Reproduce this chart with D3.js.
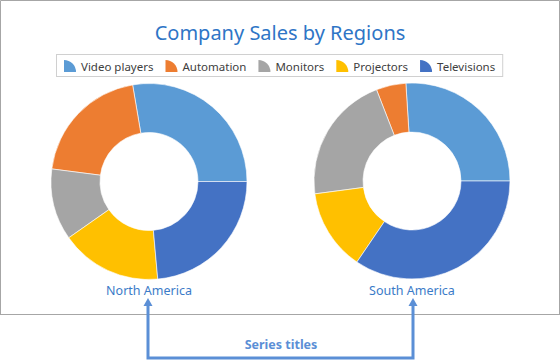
<!DOCTYPE html>
<html>
<head>
<meta charset="utf-8">
<script src="https://cdn.jsdelivr.net/npm/d3@7"></script>
<style>
  html, body { margin: 0; padding: 0; background: #fff; }
  svg { display: block; }
</style>
</head>
<body>
<svg id="chart" width="560" height="360"></svg>
<script>
const chartTitle = "Company Sales by Regions";
const categories = ["Video players", "Automation", "Monitors", "Projectors", "Televisions"];
const colors = ["#5B9BD5", "#ED7D31", "#A5A5A5", "#FFC000", "#4472C4"];
const seriesNames = ["North America", "South America"];
const northAmerica = [27.7, 20.3, 11.8, 16.7, 23.6];
const southAmerica = [26.0, 4.9, 21.2, 13.4, 34.5];
const annotationText = "Series titles";

const seriesValues = [northAmerica, southAmerica];
const font = "'Segoe UI', 'Noto Sans', sans-serif";
const svg = d3.select("#chart");

// chart frame
svg.append("path")
  .attr("d", "M0.5,314.5 V0.5 H559.5 V314.5")
  .attr("fill", "none").attr("stroke", "#a6a6a6").attr("stroke-width", 1);
svg.append("line").attr("x1", 0).attr("x2", 560).attr("y1", 314.5).attr("y2", 314.5)
  .attr("stroke", "#a6a6a6");

// title
svg.append("text")
  .attr("x", 280).attr("y", 40)
  .attr("text-anchor", "middle")
  .attr("font-family", font).attr("font-size", 20)
  .attr("fill", "#2E75C6")
  .text(chartTitle);

// legend
const legend = svg.append("g");
const markerSize = 12, gapText = 5, gapItem = 12, padX = 8;
let x = padX;
categories.forEach((c, i) => {
  const g = legend.append("g");
  g.append("path")
    .attr("d", `M${x},${markerSize} V0 A${markerSize},${markerSize} 0 0 1 ${x + markerSize},${markerSize} Z`)
    .attr("fill", colors[i]);
  const t = g.append("text")
    .attr("x", x + markerSize + gapText).attr("y", 10.5)
    .attr("font-family", font).attr("font-size", 11.5)
    .attr("fill", "#404040")
    .text(c);
  const w = t.node().getComputedTextLength();
  x += markerSize + gapText + w + (i < categories.length - 1 ? gapItem : 0);
});
const legendW = x + padX;
const legendX = Math.round(280 - legendW / 2);
legend.attr("transform", `translate(${legendX},60)`);
svg.insert("rect", "g")
  .attr("x", legendX + 0.5).attr("y", 54.5)
  .attr("width", legendW - 1).attr("height", 22)
  .attr("fill", "#fff").attr("stroke", "#d0d0d0");

// pies
const centers = [[149, 181.5], [412, 181]];
const outerR = 98, innerR = 49;
const pie = d3.pie().sort(null)
  .startAngle(Math.PI / 2).endAngle(Math.PI / 2 - 2 * Math.PI);
const arc = d3.arc().innerRadius(innerR).outerRadius(outerR);

seriesValues.forEach((vals, s) => {
  const g = svg.append("g").attr("transform", `translate(${centers[s][0]},${centers[s][1]})`);
  g.selectAll("path").data(pie(vals)).join("path")
    .attr("d", arc)
    .attr("fill", (d, i) => colors[i])
    .attr("stroke", "#fff").attr("stroke-width", 0.6);
  svg.append("text")
    .attr("x", centers[s][0]).attr("y", 295)
    .attr("text-anchor", "middle")
    .attr("font-family", font).attr("font-size", 12.5)
    .attr("fill", "#3B7BC8")
    .text(seriesNames[s]);
});

// annotation arrows
const annColor = "#5B8FD6";
const ax1 = 148, ax2 = 413, ay = 358;
svg.append("path")
  .attr("d", `M${ax1},304 V${ay} H${ax2} V304`)
  .attr("fill", "none").attr("stroke", annColor).attr("stroke-width", 3);
[ax1, ax2].forEach(ax => {
  svg.append("path")
    .attr("d", `M${ax},298 L${ax + 4.5},306 L${ax - 4.5},306 Z`)
    .attr("fill", annColor);
});
svg.append("text")
  .attr("x", 281).attr("y", 349)
  .attr("text-anchor", "middle")
  .attr("font-family", font).attr("font-size", 12.5).attr("font-weight", "bold")
  .attr("fill", annColor)
  .text(annotationText);
</script>
</body>
</html>
